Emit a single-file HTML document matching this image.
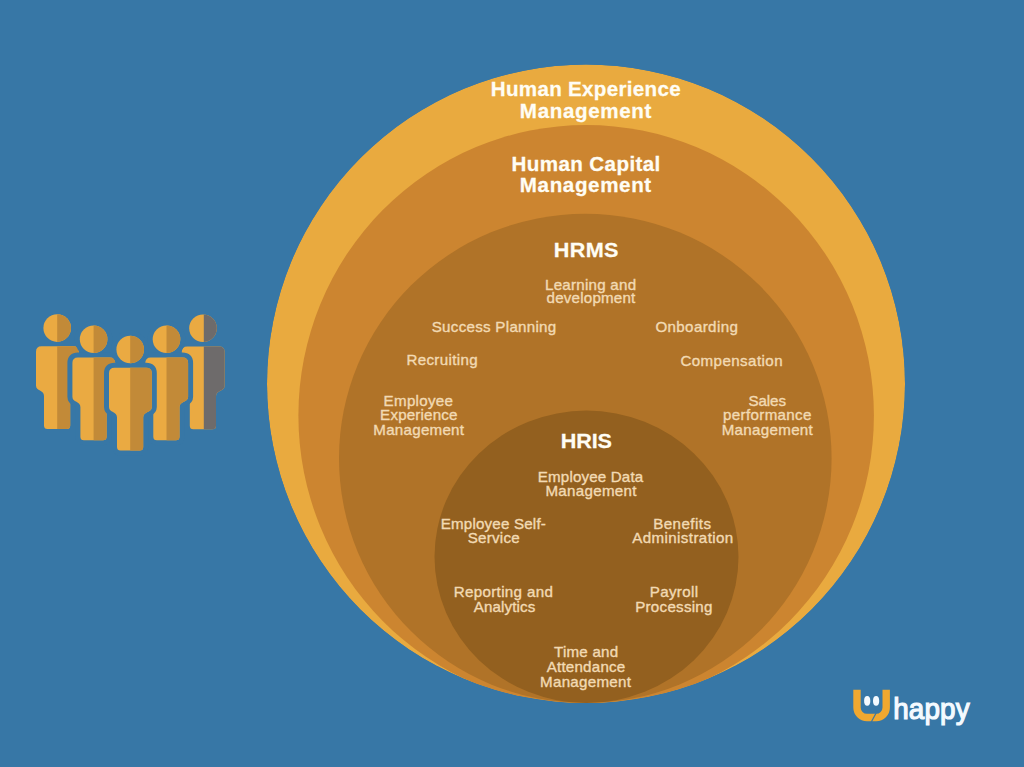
<!DOCTYPE html>
<html><head><meta charset="utf-8"><style>
html,body{margin:0;padding:0;}
body{width:1024px;height:767px;overflow:hidden;background:#3777A6;}
svg{position:absolute;left:0;top:0;}
text{font-family:"Liberation Sans",sans-serif;}
</style></head><body>
<svg width="1024" height="767" viewBox="0 0 1024 767">
<defs><clipPath id="outer"><ellipse cx="586.0" cy="383.75" rx="319.0" ry="319.25"/></clipPath></defs>
<rect width="1024" height="767" fill="#3777A6"/>
<g clip-path="url(#outer)">
<ellipse cx='586.0' cy='383.75' rx='319.0' ry='319.25' fill='#E9AA3F'/>
<ellipse cx='586.15' cy='415.5' rx='287.75' ry='290.5' fill='#CC8530'/>
<ellipse cx='585.3' cy='458.35' rx='246.3' ry='244.65' fill='#B07328'/>
<ellipse cx='586.5' cy='556.8' rx='152.0' ry='146.2' fill='#93601F'/>
</g>
<text transform='translate(490.75,96.1) scale(1.03,1)' fill='#FFFDF4' stroke='#FFFDF4' stroke-width='0.25' font-weight='bold' font-size='20' letter-spacing='0.287'>Human Experience</text>
<text transform='translate(519.85,117.5) scale(1.03,1)' fill='#FFFDF4' stroke='#FFFDF4' stroke-width='0.25' font-weight='bold' font-size='20' letter-spacing='0.611'>Management</text>
<text transform='translate(511.45,171.4) scale(1.03,1)' fill='#FFFDF4' stroke='#FFFDF4' stroke-width='0.25' font-weight='bold' font-size='20' letter-spacing='0.38'>Human Capital</text>
<text transform='translate(519.85,192.2) scale(1.03,1)' fill='#FFFDF4' stroke='#FFFDF4' stroke-width='0.25' font-weight='bold' font-size='20' letter-spacing='0.589'>Management</text>
<text transform='translate(553.85,256.6) scale(1.03,1)' fill='#FFFDF4' stroke='#FFFDF4' stroke-width='0.25' font-weight='bold' font-size='21' letter-spacing='0.283'>HRMS</text>
<text transform='translate(560.65,447.9) scale(1.03,1)' fill='#FFFDF4' stroke='#FFFDF4' stroke-width='0.25' font-weight='bold' font-size='21' letter-spacing='-0.083'>HRIS</text>
<text transform='translate(545.0,290.0) scale(1.06,1)' fill='#F2DAB3' stroke='#F2DAB3' stroke-width='0.35' font-weight='normal' font-size='14.3' letter-spacing='0.23'>Learning and</text>
<text transform='translate(546.6,303.0) scale(1.06,1)' fill='#F2DAB3' stroke='#F2DAB3' stroke-width='0.35' font-weight='normal' font-size='14.3' letter-spacing='0.191'>development</text>
<text transform='translate(431.7,332.0) scale(1.06,1)' fill='#F2DAB3' stroke='#F2DAB3' stroke-width='0.35' font-weight='normal' font-size='14.3' letter-spacing='0.263'>Success Planning</text>
<text transform='translate(655.4,331.9) scale(1.06,1)' fill='#F2DAB3' stroke='#F2DAB3' stroke-width='0.35' font-weight='normal' font-size='14.3' letter-spacing='0.347'>Onboarding</text>
<text transform='translate(406.4,365.4) scale(1.06,1)' fill='#F2DAB3' stroke='#F2DAB3' stroke-width='0.35' font-weight='normal' font-size='14.3' letter-spacing='0.326'>Recruiting</text>
<text transform='translate(680.4,365.5) scale(1.06,1)' fill='#F2DAB3' stroke='#F2DAB3' stroke-width='0.35' font-weight='normal' font-size='14.3' letter-spacing='0.391'>Compensation</text>
<text transform='translate(383.6,405.7) scale(1.06,1)' fill='#F2DAB3' stroke='#F2DAB3' stroke-width='0.35' font-weight='normal' font-size='14.3' letter-spacing='0.276'>Employee</text>
<text transform='translate(380.1,419.9) scale(1.06,1)' fill='#F2DAB3' stroke='#F2DAB3' stroke-width='0.35' font-weight='normal' font-size='14.3' letter-spacing='0.169'>Experience</text>
<text transform='translate(373.3,434.5) scale(1.06,1)' fill='#F2DAB3' stroke='#F2DAB3' stroke-width='0.35' font-weight='normal' font-size='14.3' letter-spacing='0.242'>Management</text>
<text transform='translate(748.4,405.5) scale(1.06,1)' fill='#F2DAB3' stroke='#F2DAB3' stroke-width='0.35' font-weight='normal' font-size='14.3' letter-spacing='-0.071'>Sales</text>
<text transform='translate(723.05,419.9) scale(1.06,1)' fill='#F2DAB3' stroke='#F2DAB3' stroke-width='0.35' font-weight='normal' font-size='14.3' letter-spacing='0.321'>performance</text>
<text transform='translate(721.7,434.5) scale(1.06,1)' fill='#F2DAB3' stroke='#F2DAB3' stroke-width='0.35' font-weight='normal' font-size='14.3' letter-spacing='0.284'>Management</text>
<text transform='translate(537.8,481.5) scale(1.06,1)' fill='#F2DAB3' stroke='#F2DAB3' stroke-width='0.35' font-weight='normal' font-size='14.3' letter-spacing='0.145'>Employee Data</text>
<text transform='translate(545.4,495.6) scale(1.06,1)' fill='#F2DAB3' stroke='#F2DAB3' stroke-width='0.35' font-weight='normal' font-size='14.3' letter-spacing='0.284'>Management</text>
<text transform='translate(440.7,528.7) scale(1.06,1)' fill='#F2DAB3' stroke='#F2DAB3' stroke-width='0.35' font-weight='normal' font-size='14.3' letter-spacing='0.178'>Employee Self-</text>
<text transform='translate(467.7,543.2) scale(1.06,1)' fill='#F2DAB3' stroke='#F2DAB3' stroke-width='0.35' font-weight='normal' font-size='14.3' letter-spacing='0.231'>Service</text>
<text transform='translate(653.2,528.7) scale(1.06,1)' fill='#F2DAB3' stroke='#F2DAB3' stroke-width='0.35' font-weight='normal' font-size='14.3' letter-spacing='0.414'>Benefits</text>
<text transform='translate(632.25,543.2) scale(1.06,1)' fill='#F2DAB3' stroke='#F2DAB3' stroke-width='0.35' font-weight='normal' font-size='14.3' letter-spacing='0.364'>Administration</text>
<text transform='translate(453.7,597.2) scale(1.06,1)' fill='#F2DAB3' stroke='#F2DAB3' stroke-width='0.35' font-weight='normal' font-size='14.3' letter-spacing='0.314'>Reporting and</text>
<text transform='translate(473.75,611.7) scale(1.06,1)' fill='#F2DAB3' stroke='#F2DAB3' stroke-width='0.35' font-weight='normal' font-size='14.3' letter-spacing='0.106'>Analytics</text>
<text transform='translate(649.7,597.2) scale(1.06,1)' fill='#F2DAB3' stroke='#F2DAB3' stroke-width='0.35' font-weight='normal' font-size='14.3' letter-spacing='0.32'>Payroll</text>
<text transform='translate(635.2,611.8) scale(1.06,1)' fill='#F2DAB3' stroke='#F2DAB3' stroke-width='0.35' font-weight='normal' font-size='14.3' letter-spacing='0.247'>Processing</text>
<text transform='translate(554.0,657.0) scale(1.06,1)' fill='#F2DAB3' stroke='#F2DAB3' stroke-width='0.35' font-weight='normal' font-size='14.3' letter-spacing='0.207'>Time and</text>
<text transform='translate(546.65,671.9) scale(1.06,1)' fill='#F2DAB3' stroke='#F2DAB3' stroke-width='0.35' font-weight='normal' font-size='14.3' letter-spacing='0.211'>Attendance</text>
<text transform='translate(540.1,686.6) scale(1.06,1)' fill='#F2DAB3' stroke='#F2DAB3' stroke-width='0.35' font-weight='normal' font-size='14.3' letter-spacing='0.253'>Management</text>
<clipPath id='c572'><rect x='57.2' y='308.1' width='40' height='140'/></clipPath><g fill='#EAAA42'><circle cx='57.2' cy='328.1' r='13.8'/><path d='M41.50,346.30 L73.30,346.30 Q78.80,346.30 78.80,351.80 L78.80,385.60 C78.80,391.60 70.20,389.60 70.20,396.10 L70.20,425.60 Q70.20,429.10 66.70,429.10 L47.50,429.10 Q44.00,429.10 44.00,425.60 L44.00,396.10 C44.00,389.60 36.00,391.60 36.00,385.60 L36.00,351.80 Q36.00,346.30 41.50,346.30 Z'/></g><g fill='#C28A38' clip-path='url(#c572)'><circle cx='57.2' cy='328.1' r='13.8'/><path d='M41.50,346.30 L73.30,346.30 Q78.80,346.30 78.80,351.80 L78.80,385.60 C78.80,391.60 70.20,389.60 70.20,396.10 L70.20,425.60 Q70.20,429.10 66.70,429.10 L47.50,429.10 Q44.00,429.10 44.00,425.60 L44.00,396.10 C44.00,389.60 36.00,391.60 36.00,385.60 L36.00,351.80 Q36.00,346.30 41.50,346.30 Z'/></g>
<clipPath id='c2030'><rect x='203.8' y='308.3' width='40' height='140'/></clipPath><g fill='#EAAA42'><circle cx='203.0' cy='328.3' r='13.8'/><path d='M187.30,346.50 L219.10,346.50 Q224.60,346.50 224.60,352.00 L224.60,385.80 C224.60,391.80 216.00,389.80 216.00,396.30 L216.00,425.80 Q216.00,429.30 212.50,429.30 L193.30,429.30 Q189.80,429.30 189.80,425.80 L189.80,396.30 C189.80,389.80 181.80,391.80 181.80,385.80 L181.80,352.00 Q181.80,346.50 187.30,346.50 Z'/></g><g fill='#6E6B6B' clip-path='url(#c2030)'><circle cx='203.0' cy='328.3' r='13.8'/><path d='M187.30,346.50 L219.10,346.50 Q224.60,346.50 224.60,352.00 L224.60,385.80 C224.60,391.80 216.00,389.80 216.00,396.30 L216.00,425.80 Q216.00,429.30 212.50,429.30 L193.30,429.30 Q189.80,429.30 189.80,425.80 L189.80,396.30 C189.80,389.80 181.80,391.80 181.80,385.80 L181.80,352.00 Q181.80,346.50 187.30,346.50 Z'/></g>
<g fill='#3777A6' stroke='#3777A6' stroke-width='10' stroke-linejoin='round'><circle cx='93.6' cy='339.2' r='13.8'/><path d='M77.90,357.40 L109.70,357.40 Q115.20,357.40 115.20,362.90 L115.20,396.70 C115.20,402.70 106.60,400.70 106.60,407.20 L106.60,436.70 Q106.60,440.20 103.10,440.20 L83.90,440.20 Q80.40,440.20 80.40,436.70 L80.40,407.20 C80.40,400.70 72.40,402.70 72.40,396.70 L72.40,362.90 Q72.40,357.40 77.90,357.40 Z'/></g><clipPath id='c936'><rect x='93.6' y='319.2' width='40' height='140'/></clipPath><g fill='#EAAA42'><circle cx='93.6' cy='339.2' r='13.8'/><path d='M77.90,357.40 L109.70,357.40 Q115.20,357.40 115.20,362.90 L115.20,396.70 C115.20,402.70 106.60,400.70 106.60,407.20 L106.60,436.70 Q106.60,440.20 103.10,440.20 L83.90,440.20 Q80.40,440.20 80.40,436.70 L80.40,407.20 C80.40,400.70 72.40,402.70 72.40,396.70 L72.40,362.90 Q72.40,357.40 77.90,357.40 Z'/></g><g fill='#C28A38' clip-path='url(#c936)'><circle cx='93.6' cy='339.2' r='13.8'/><path d='M77.90,357.40 L109.70,357.40 Q115.20,357.40 115.20,362.90 L115.20,396.70 C115.20,402.70 106.60,400.70 106.60,407.20 L106.60,436.70 Q106.60,440.20 103.10,440.20 L83.90,440.20 Q80.40,440.20 80.40,436.70 L80.40,407.20 C80.40,400.70 72.40,402.70 72.40,396.70 L72.40,362.90 Q72.40,357.40 77.90,357.40 Z'/></g>
<g fill='#3777A6' stroke='#3777A6' stroke-width='10' stroke-linejoin='round'><circle cx='166.5' cy='339.3' r='13.8'/><path d='M150.80,357.50 L182.60,357.50 Q188.10,357.50 188.10,363.00 L188.10,396.80 C188.10,402.80 179.50,400.80 179.50,407.30 L179.50,436.80 Q179.50,440.30 176.00,440.30 L156.80,440.30 Q153.30,440.30 153.30,436.80 L153.30,407.30 C153.30,400.80 145.30,402.80 145.30,396.80 L145.30,363.00 Q145.30,357.50 150.80,357.50 Z'/></g><clipPath id='c1665'><rect x='166.5' y='319.3' width='40' height='140'/></clipPath><g fill='#EAAA42'><circle cx='166.5' cy='339.3' r='13.8'/><path d='M150.80,357.50 L182.60,357.50 Q188.10,357.50 188.10,363.00 L188.10,396.80 C188.10,402.80 179.50,400.80 179.50,407.30 L179.50,436.80 Q179.50,440.30 176.00,440.30 L156.80,440.30 Q153.30,440.30 153.30,436.80 L153.30,407.30 C153.30,400.80 145.30,402.80 145.30,396.80 L145.30,363.00 Q145.30,357.50 150.80,357.50 Z'/></g><g fill='#C28A38' clip-path='url(#c1665)'><circle cx='166.5' cy='339.3' r='13.8'/><path d='M150.80,357.50 L182.60,357.50 Q188.10,357.50 188.10,363.00 L188.10,396.80 C188.10,402.80 179.50,400.80 179.50,407.30 L179.50,436.80 Q179.50,440.30 176.00,440.30 L156.80,440.30 Q153.30,440.30 153.30,436.80 L153.30,407.30 C153.30,400.80 145.30,402.80 145.30,396.80 L145.30,363.00 Q145.30,357.50 150.80,357.50 Z'/></g>
<g fill='#3777A6' stroke='#3777A6' stroke-width='10' stroke-linejoin='round'><circle cx='130.2' cy='349.5' r='13.8'/><path d='M114.50,367.70 L146.30,367.70 Q151.80,367.70 151.80,373.20 L151.80,407.00 C151.80,413.00 143.20,411.00 143.20,417.50 L143.20,447.00 Q143.20,450.50 139.70,450.50 L120.50,450.50 Q117.00,450.50 117.00,447.00 L117.00,417.50 C117.00,411.00 109.00,413.00 109.00,407.00 L109.00,373.20 Q109.00,367.70 114.50,367.70 Z'/></g><clipPath id='c1302'><rect x='130.2' y='329.5' width='40' height='140'/></clipPath><g fill='#EAAA42'><circle cx='130.2' cy='349.5' r='13.8'/><path d='M114.50,367.70 L146.30,367.70 Q151.80,367.70 151.80,373.20 L151.80,407.00 C151.80,413.00 143.20,411.00 143.20,417.50 L143.20,447.00 Q143.20,450.50 139.70,450.50 L120.50,450.50 Q117.00,450.50 117.00,447.00 L117.00,417.50 C117.00,411.00 109.00,413.00 109.00,407.00 L109.00,373.20 Q109.00,367.70 114.50,367.70 Z'/></g><g fill='#C28A38' clip-path='url(#c1302)'><circle cx='130.2' cy='349.5' r='13.8'/><path d='M114.50,367.70 L146.30,367.70 Q151.80,367.70 151.80,373.20 L151.80,407.00 C151.80,413.00 143.20,411.00 143.20,417.50 L143.20,447.00 Q143.20,450.50 139.70,450.50 L120.50,450.50 Q117.00,450.50 117.00,447.00 L117.00,417.50 C117.00,411.00 109.00,413.00 109.00,407.00 L109.00,373.20 Q109.00,367.70 114.50,367.70 Z'/></g>
<g>
<path d='M857,689.7 V707.5 A10,10 0 0 0 867,717.5 H876.2 A10,10 0 0 0 886.2,707.5 V689.7' fill='none' stroke='#F0A830' stroke-width='7.4'/>
<path d='M877.5,710.5 L871,722.5' stroke='#3777A6' stroke-width='1.2'/>
<ellipse cx='867.2' cy='700.9' rx='3.1' ry='4.8' fill='#F4FAFF'/>
<ellipse cx='876.1' cy='700.9' rx='3.1' ry='4.8' fill='#F4FAFF'/>
<text transform='translate(893.15,719.3) scale(0.96,1)' fill='#F4FAFF' stroke='#F4FAFF' stroke-width='1.2' font-size='29' letter-spacing='0.188'>happy</text>
</g>
</svg></body></html>
